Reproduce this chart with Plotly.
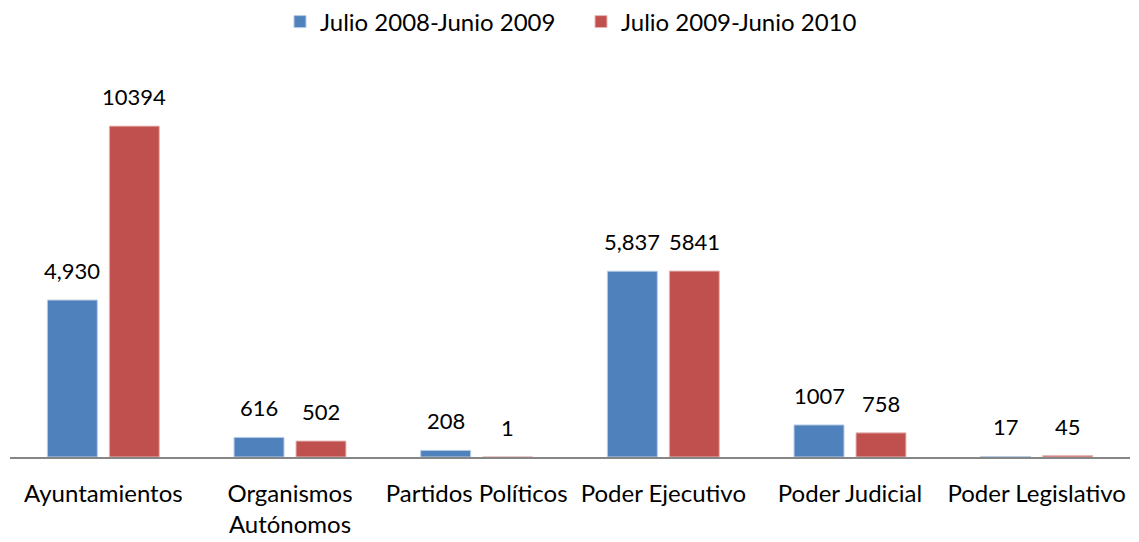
import plotly.graph_objects as go

categories = ["Ayuntamientos", "Organismos<br>Autónomos", "Partidos Políticos",
              "Poder Ejecutivo", "Poder Judicial", "Poder Legislativo"]
series1_name = "Julio 2008-Junio 2009"
series2_name = "Julio 2009-Junio 2010"
series1_values = [4930, 616, 208, 5837, 1007, 17]
series2_values = [10394, 502, 1, 5841, 758, 45]
series1_labels = ["4,930", "616", "208", "5,837", "1007", "17"]
series2_labels = ["10394", "502", "1", "5841", "758", "45"]

FONT = "Lato"
BLUE, RED = "#4F81BD", "#C0504D"

fig = go.Figure()
fig.add_trace(go.Bar(x=categories, y=series1_values, name=series1_name,
                     marker=dict(color=BLUE, line=dict(color="#B9CDE5", width=1))))
fig.add_trace(go.Bar(x=categories, y=series2_values, name=series2_name,
                     marker=dict(color=RED, line=dict(color="#E6B9B8", width=1))))

annotations = []
for cat, v, lab in zip(categories, series1_values, series1_labels):
    annotations.append(dict(x=cat, y=v, xref="x", yref="y", text=lab, showarrow=False,
                            xanchor="center", yanchor="bottom", xshift=-31, yshift=14,
                            font=dict(family=FONT, size=22, color="#000000")))
for cat, v, lab in zip(categories, series2_values, series2_labels):
    annotations.append(dict(x=cat, y=v, xref="x", yref="y", text=lab, showarrow=False,
                            xanchor="center", yanchor="bottom", xshift=31, yshift=14,
                            font=dict(family=FONT, size=22, color="#000000")))

fig.update_layout(
    width=1139, height=542,
    margin=dict(l=10, r=9, t=75, b=85),
    paper_bgcolor="white", plot_bgcolor="white",
    barmode="group", bargap=0.336, bargroupgap=0.194,
    font=dict(family=FONT, size=22, color="#000000"),
    showlegend=True,
    legend=dict(orientation="h", xref="container", x=280 / 1139, xanchor="left",
                yref="container", y=1 - 22 / 542, yanchor="middle",
                font=dict(family=FONT, size=24, color="#000000"),
                itemwidth=30, traceorder="normal",
                entrywidth=256, entrywidthmode="pixels"),
    annotations=annotations,
)
fig.update_xaxes(showline=True, linecolor="#868686", linewidth=2,
                 ticks="", showgrid=False, ticklabelstandoff=14, automargin=False,
                 tickfont=dict(family=FONT, size=24, color="#000000"))
fig.update_yaxes(range=[0, 12000], showgrid=False, showticklabels=False,
                 zeroline=False, showline=False, ticks="", automargin=False)

fig.write_html("out.html", config={"displayModeBar": False},
               post_script="document.body.style.margin='0';")
